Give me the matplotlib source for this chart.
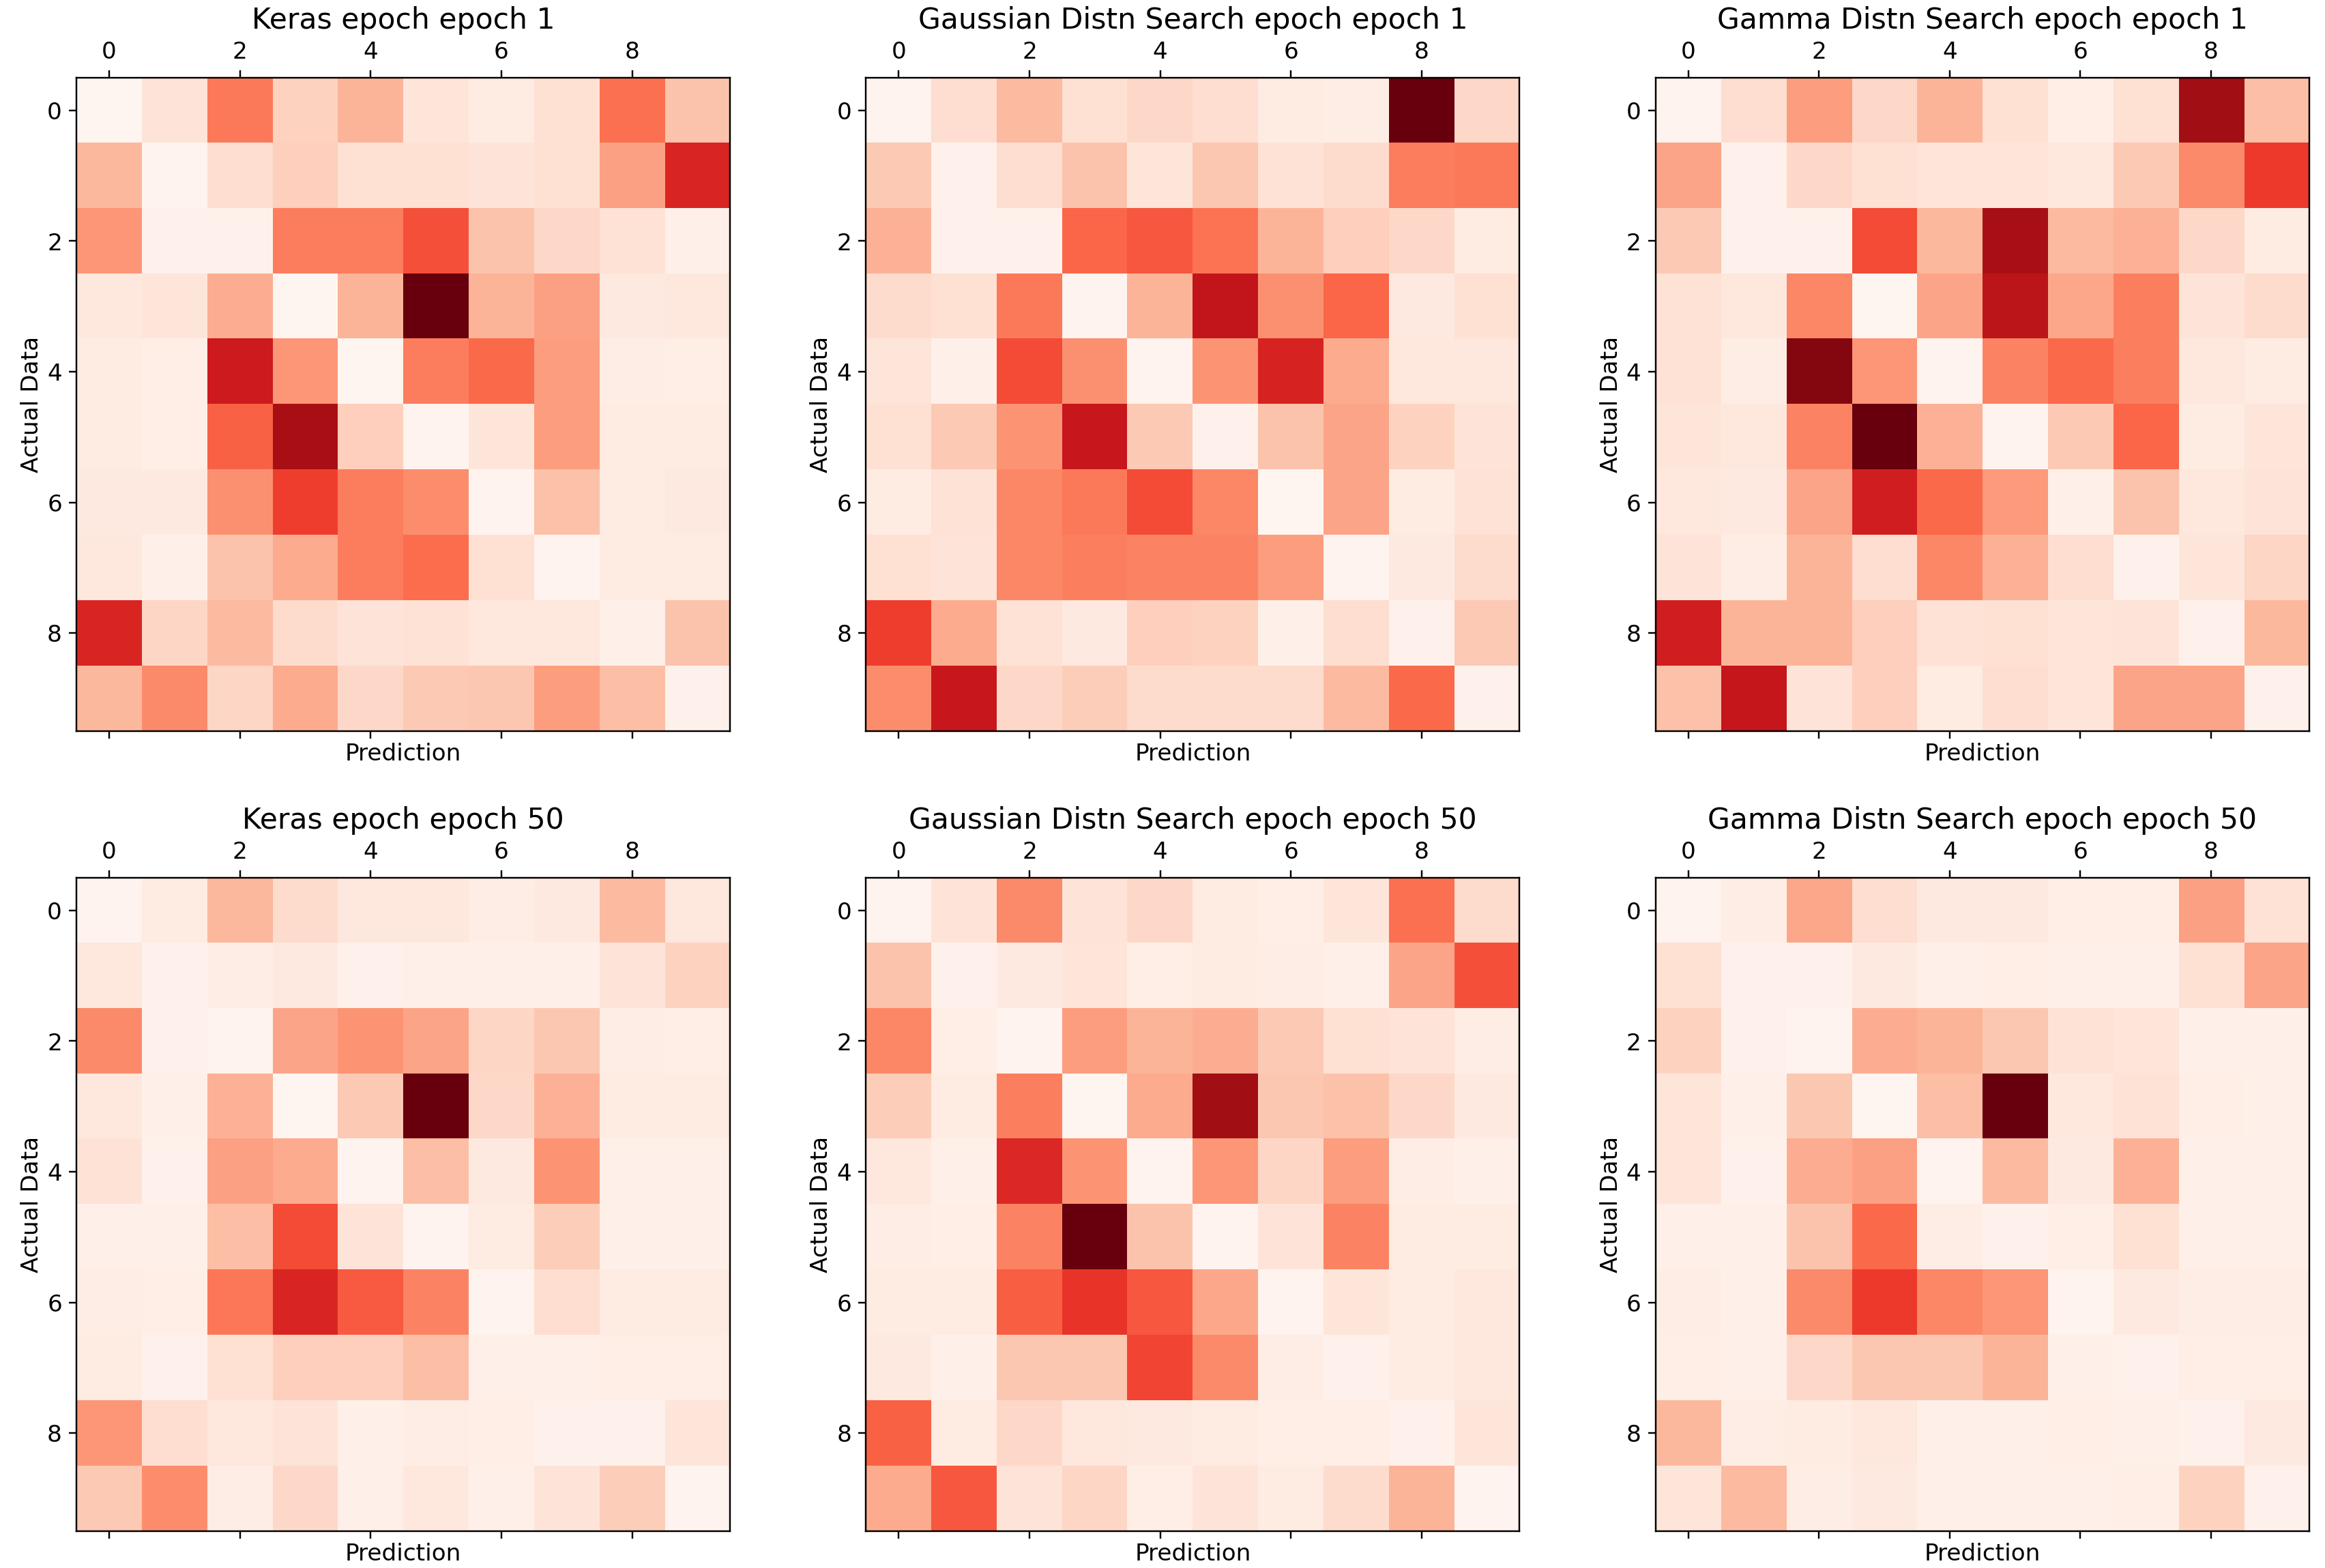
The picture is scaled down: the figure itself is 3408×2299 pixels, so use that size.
import numpy as np
import matplotlib
matplotlib.use("Agg")
import matplotlib.pyplot as plt

# confusion values (relative intensity, diagonal removed)
keras_e1 = [
    [0, 10, 45, 17, 27, 9, 6, 12, 48, 22],
    [26, 1, 13, 18, 12, 12, 10, 12, 33, 70],
    [36, 2, 2, 44, 44, 57, 22, 15, 11, 3],
    [8, 9, 29, 0, 27, 100, 27, 33, 7, 8],
    [6, 4, 74, 36, 0, 44, 50, 34, 5, 4],
    [6, 4, 52, 86, 18, 1, 9, 34, 6, 6],
    [7, 7, 38, 62, 44, 39, 1, 23, 6, 7],
    [8, 3, 22, 30, 44, 49, 12, 1, 6, 6],
    [70, 16, 25, 14, 10, 11, 8, 8, 3, 22],
    [26, 40, 16, 30, 15, 20, 21, 34, 24, 2],
]
gauss_e1 = [
    [1, 13, 25, 12, 15, 13, 6, 5, 100, 15],
    [20, 2, 13, 22, 9, 21, 11, 14, 44, 45],
    [28, 2, 2, 51, 55, 47, 27, 18, 15, 6],
    [14, 12, 45, 1, 27, 78, 38, 51, 7, 12],
    [9, 3, 58, 38, 1, 37, 71, 30, 8, 8],
    [12, 20, 37, 76, 20, 2, 22, 32, 17, 10],
    [6, 11, 41, 45, 58, 41, 0, 32, 6, 11],
    [12, 10, 41, 43, 42, 42, 34, 1, 7, 14],
    [62, 30, 11, 7, 18, 17, 3, 13, 2, 20],
    [39, 76, 15, 19, 14, 14, 14, 25, 50, 2],
]
gamma_e1 = [
    [1, 13, 34, 15, 27, 12, 4, 12, 88, 24],
    [32, 2, 15, 12, 9, 9, 8, 20, 40, 63],
    [20, 2, 2, 58, 26, 86, 25, 28, 15, 6],
    [11, 8, 41, 0, 32, 80, 31, 43, 10, 14],
    [11, 5, 94, 36, 1, 42, 50, 43, 8, 6],
    [9, 8, 42, 100, 28, 1, 20, 51, 6, 9],
    [8, 7, 32, 73, 50, 35, 3, 22, 8, 10],
    [10, 5, 27, 13, 41, 28, 13, 2, 9, 16],
    [73, 27, 27, 18, 11, 12, 9, 10, 2, 26],
    [23, 77, 10, 18, 6, 13, 9, 32, 32, 2],
]
keras_e50 = [
    [1, 6, 26, 14, 8, 8, 5, 7, 25, 8],
    [8, 2, 5, 7, 2, 3, 3, 3, 10, 17],
    [40, 2, 1, 32, 37, 32, 16, 21, 5, 4],
    [8, 3, 28, 0, 20, 100, 15, 28, 6, 6],
    [11, 2, 33, 30, 1, 24, 7, 37, 3, 3],
    [3, 3, 24, 58, 10, 1, 6, 19, 3, 3],
    [5, 4, 46, 70, 54, 42, 1, 13, 6, 6],
    [6, 2, 12, 18, 18, 24, 3, 3, 4, 4],
    [36, 13, 8, 10, 3, 5, 4, 2, 2, 9],
    [20, 39, 5, 15, 3, 8, 3, 10, 19, 1],
]
gauss_e50 = [
    [1, 10, 40, 10, 15, 6, 4, 9, 48, 14],
    [22, 2, 7, 9, 4, 6, 5, 3, 32, 57],
    [41, 4, 1, 34, 27, 29, 20, 12, 10, 5],
    [19, 6, 43, 0, 30, 88, 21, 23, 15, 7],
    [8, 3, 69, 37, 1, 36, 16, 34, 5, 3],
    [5, 4, 42, 100, 22, 1, 10, 42, 6, 6],
    [6, 6, 53, 65, 55, 31, 1, 9, 6, 8],
    [7, 3, 21, 21, 60, 40, 5, 2, 6, 8],
    [52, 6, 15, 8, 7, 6, 4, 4, 2, 9],
    [30, 55, 10, 16, 4, 10, 6, 14, 27, 1],
]
gamma_e50 = [
    [1, 5, 31, 13, 7, 7, 4, 4, 33, 11],
    [12, 2, 2, 7, 3, 4, 3, 3, 12, 32],
    [17, 2, 1, 29, 27, 21, 11, 9, 3, 3],
    [9, 3, 21, 0, 24, 100, 8, 11, 4, 3],
    [9, 2, 29, 33, 1, 25, 7, 28, 3, 3],
    [3, 3, 22, 50, 5, 2, 4, 12, 3, 3],
    [5, 3, 40, 63, 41, 36, 1, 7, 5, 5],
    [4, 3, 15, 21, 21, 27, 3, 2, 4, 4],
    [26, 5, 6, 8, 3, 3, 4, 3, 2, 7],
    [9, 25, 5, 7, 3, 3, 3, 4, 17, 2],
]

titles = [
    "Keras epoch epoch 1",
    "Gaussian Distn Search epoch epoch 1",
    "Gamma Distn Search epoch epoch 1",
    "Keras epoch epoch 50",
    "Gaussian Distn Search epoch epoch 50",
    "Gamma Distn Search epoch epoch 50",
]
matrices = [keras_e1, gauss_e1, gamma_e1, keras_e50, gauss_e50, gamma_e50]

plt.rcParams["font.size"] = 11.3

fig, axes = plt.subplots(2, 3, figsize=(15.6, 10.524))
plt.subplots_adjust(left=0.0329, right=0.9932, bottom=0.0235, top=0.9504,
                    wspace=0.2078, hspace=0.2244)

for ax, mat, title in zip(axes.flat, matrices, titles):
    ax.matshow(np.array(mat), cmap="Reds")
    ax.set_title(title, fontsize=14)
    ax.set_xlabel("Prediction", labelpad=2)
    ax.set_ylabel("Actual Data", labelpad=2)

fig.savefig("out.png", dpi=3408 / 15.6)
